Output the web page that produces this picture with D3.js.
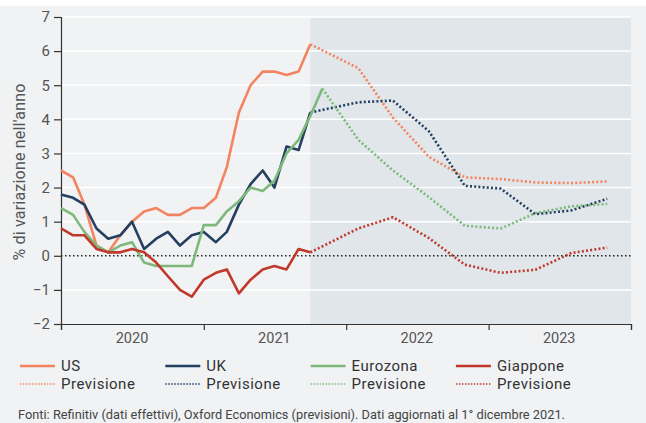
<!DOCTYPE html>
<html>
<head>
<meta charset="utf-8">
<title>Inflazione</title>
<script src="https://cdn.jsdelivr.net/npm/d3@7"></script>
<style>
  body { margin: 0; background: #fff; }
  svg { display: block; font-family: Roboto, "Noto Sans", sans-serif; }
</style>
</head>
<body>
<div id="chart"></div>
<script>
// monthly actual data, Jan 2020 onwards
var actualMonths = ["2020-01","2020-02","2020-03","2020-04","2020-05","2020-06","2020-07","2020-08","2020-09","2020-10","2020-11","2020-12",
                    "2021-01","2021-02","2021-03","2021-04","2021-05","2021-06","2021-07","2021-08","2021-09","2021-10","2021-11"];
var usActual = [2.5, 2.3, 1.5, 0.3, 0.1, 0.6, 1.0, 1.3, 1.4, 1.2, 1.2, 1.4, 1.4, 1.7, 2.6, 4.2, 5.0, 5.4, 5.4, 5.3, 5.4, 6.2];
var ukActual = [1.8, 1.7, 1.5, 0.8, 0.5, 0.6, 1.0, 0.2, 0.5, 0.7, 0.3, 0.6, 0.7, 0.4, 0.7, 1.5, 2.1, 2.5, 2.0, 3.2, 3.1, 4.2];
var ezActual = [1.4, 1.2, 0.7, 0.3, 0.1, 0.3, 0.4, -0.2, -0.3, -0.3, -0.3, -0.3, 0.9, 0.9, 1.3, 1.6, 2.0, 1.9, 2.2, 3.0, 3.4, 4.1, 4.9];
var jpActual = [0.8, 0.6, 0.6, 0.2, 0.1, 0.1, 0.2, 0.1, -0.2, -0.6, -1.0, -1.2, -0.7, -0.5, -0.4, -1.1, -0.7, -0.4, -0.3, -0.4, 0.2, 0.1];

// quarterly forecasts (mid-quarter)
var forecastMonths = ["2022-02","2022-05","2022-08","2022-11","2023-02","2023-05","2023-08","2023-11"];
var usForecast = [5.5, 4.05, 2.9, 2.3, 2.25, 2.15, 2.13, 2.18];
var ukForecast = [4.5, 4.55, 3.65, 2.05, 1.97, 1.22, 1.33, 1.67];
var ezForecast = [3.4, 2.5, 1.72, 0.88, 0.8, 1.25, 1.45, 1.52];
var jpForecast = [0.8, 1.13, 0.52, -0.26, -0.5, -0.41, 0.08, 0.24];

var seriesNames = ["US", "UK", "Eurozona", "Giappone"];
var seriesColors = ["#f4845f", "#233f61", "#7cb97b", "#c0392b"];
var years = ["2020", "2021", "2022", "2023"];
var yTicks = [-2, -1, 0, 1, 2, 3, 4, 5, 6, 7];
var forecastStart = "2021-10";

var W = 646, H = 423;

var parse = d3.timeParse("%Y-%m");

var svg = d3.select("#chart").append("svg")
    .attr("width", W)
    .attr("height", H);

// panel background
svg.append("rect")
    .attr("x", 0).attr("y", 6)
    .attr("width", W).attr("height", H - 6)
    .attr("fill", "#f0f2f4");

var x = d3.scaleTime()
    .domain([parse("2020-01"), parse("2024-01")])
    .range([61, 631]);
var y = d3.scaleLinear()
    .domain([-2, 7])
    .range([324, 17]);

// forecast shading
svg.append("rect")
    .attr("x", x(parse(forecastStart)))
    .attr("y", y(7))
    .attr("width", x.range()[1] - x(parse(forecastStart)))
    .attr("height", y(-2) - y(7))
    .attr("fill", "#e1e6ea");

// gridlines
svg.append("g").selectAll("line")
    .data(yTicks.filter(function(d) { return d !== 0 && d !== -2; }))
    .enter().append("line")
    .attr("x1", x.range()[0]).attr("x2", x.range()[1])
    .attr("y1", function(d) { return y(d); })
    .attr("y2", function(d) { return y(d); })
    .attr("stroke", "#fff")
    .attr("stroke-width", 1.5);

// zero line
svg.append("line")
    .attr("x1", x.range()[0]).attr("x2", x.range()[1])
    .attr("y1", y(0)).attr("y2", y(0))
    .attr("stroke", "#222")
    .attr("stroke-width", 1.5)
    .attr("stroke-dasharray", "1.5,2.5");

// y axis
var yAxis = svg.append("g")
    .attr("transform", "translate(" + x.range()[0] + ",0)")
    .call(d3.axisLeft(y).tickValues(yTicks).tickSize(7).tickPadding(4));
yAxis.select(".domain").attr("stroke", "#333").attr("stroke-width", 1.2);
yAxis.selectAll(".tick line").attr("stroke", "#333").attr("stroke-width", 1.2);
yAxis.selectAll("text").attr("font-size", 15).attr("fill", "#555")
    .attr("font-family", "Roboto");

// x axis with ticks at year boundaries, labels mid-year
var yearStarts = years.map(function(d) { return parse(d + "-01"); }).concat([parse("2024-01")]);
var xAxis = svg.append("g")
    .attr("transform", "translate(0," + y(-2) + ")")
    .call(d3.axisBottom(x).tickValues(yearStarts).tickSize(6).tickFormat(""));
xAxis.select(".domain").attr("stroke", "#333").attr("stroke-width", 1.2);
xAxis.selectAll(".tick line").attr("stroke", "#333").attr("stroke-width", 1.2);

svg.append("g").selectAll("text")
    .data(years)
    .enter().append("text")
    .attr("x", function(d) { return x(parse(d + "-07")); })
    .attr("y", 343)
    .attr("text-anchor", "middle")
    .attr("font-size", 14.5)
    .attr("fill", "#555")
    .text(function(d) { return d; });

// y title
svg.append("text")
    .attr("transform", "translate(25,172) rotate(-90)")
    .attr("text-anchor", "middle")
    .attr("font-size", 16)
    .attr("letter-spacing", 0.2)
    .attr("fill", "#555")
    .text("% di variazione nell'anno");

var line = d3.line()
    .x(function(d) { return x(d.date); })
    .y(function(d) { return y(d.value); });

var actuals = [usActual, ukActual, ezActual, jpActual];
var forecasts = [usForecast, ukForecast, ezForecast, jpForecast];

// forecasts first (dotted), starting from the last actual point
forecasts.forEach(function(fc, i) {
    var act = actuals[i];
    var pts = [{date: parse(actualMonths[act.length - 1]), value: act[act.length - 1]}];
    fc.forEach(function(v, j) { pts.push({date: parse(forecastMonths[j]), value: v}); });
    svg.append("path")
        .datum(pts)
        .attr("d", line)
        .attr("fill", "none")
        .attr("stroke", seriesColors[i])
        .attr("stroke-width", 2.6)
        .attr("stroke-dasharray", "2,2.2");
});

actuals.forEach(function(act, i) {
    var pts = act.map(function(v, j) { return {date: parse(actualMonths[j]), value: v}; });
    svg.append("path")
        .datum(pts)
        .attr("d", line)
        .attr("fill", "none")
        .attr("stroke", seriesColors[i])
        .attr("stroke-width", 2.6)
        .attr("stroke-linejoin", "round");
});

// legend
var legend = svg.append("g").selectAll("g")
    .data(seriesNames)
    .enter().append("g")
    .attr("transform", function(d, i) { return "translate(" + (20 + i * 145.3) + ",0)"; });

legend.append("line")
    .attr("x1", 0).attr("x2", 35)
    .attr("y1", 366).attr("y2", 366)
    .attr("stroke", function(d, i) { return seriesColors[i]; })
    .attr("stroke-width", 2.5);
legend.append("line")
    .attr("x1", 0).attr("x2", 35)
    .attr("y1", 384).attr("y2", 384)
    .attr("stroke", function(d, i) { return seriesColors[i]; })
    .attr("stroke-width", 1.5)
    .attr("stroke-dasharray", "1.5,1.5");
legend.append("text")
    .attr("x", 41).attr("y", 371)
    .attr("font-size", 15)
    .attr("letter-spacing", 0.5)
    .attr("fill", "#333")
    .text(function(d) { return d; });
legend.append("text")
    .attr("x", 41).attr("y", 389)
    .attr("font-size", 15)
    .attr("letter-spacing", 0.5)
    .attr("fill", "#333")
    .text("Previsione");

// source note
svg.append("text")
    .attr("x", 18).attr("y", 419)
    .attr("font-size", 12.8)
    .attr("fill", "#444")
    .text("Fonti: Refinitiv (dati effettivi), Oxford Economics (previsioni). Dati aggiornati al 1° dicembre 2021.");
</script>
</body>
</html>
